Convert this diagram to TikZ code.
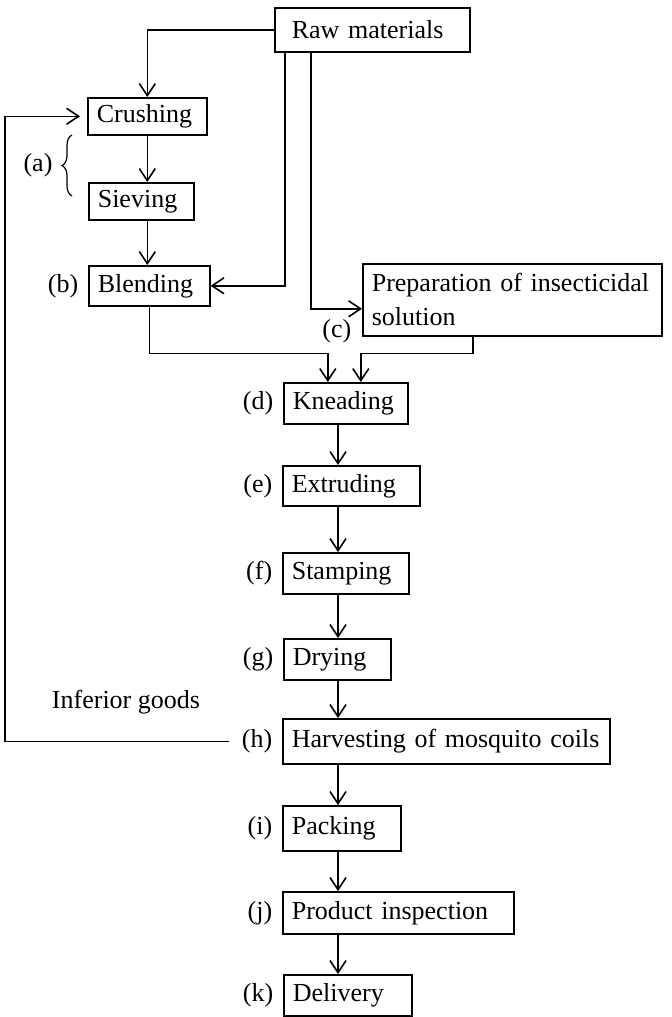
\documentclass[tikz,border=0pt]{standalone}
\usepackage{fontspec}
\setmainfont{Liberation Serif}
\usetikzlibrary{arrows.meta,positioning,decorations.pathreplacing}
\begin{document}
\begin{tikzpicture}[x=0.5pt,y=-0.5pt,
  font=\fontsize{13}{17}\selectfont,
  line width=0.8pt,
  >={Straight Barb[length=6pt,width=8pt]},
  stage/.style={draw,anchor=north west,inner xsep=4.5pt,inner ysep=0pt,align=left,minimum height=20pt},
  tag/.style={inner sep=1pt}]
\useasboundingbox (0,0) rectangle (671,1017);
% raw materials and left column
\node[stage,inner xsep=8.5pt,text width=80.5pt,minimum height=22pt] (raw) at (274,7) {Raw materials};
\node[stage,text width=50.5pt,minimum height=18.5pt] (crush) at (87,97) {Crushing};
\node[stage,text width=43.5pt,minimum height=18.5pt] (sieve) at (88,182) {Sieving};
\node[stage,text width=51.5pt] (blend) at (88,265) {Blending};
\node[stage,text width=140.5pt,minimum height=36pt] (prep) at (362,263) {Preparation of insecticidal\\solution};
% main column
\node[stage,text width=53pt,minimum height=20.5pt] (knead) at (283,382) {Kneading};
\node[stage,text width=59.5pt] (extrude) at (282,465) {Extruding};
\node[stage,text width=54pt,minimum height=20.5pt] (stamp) at (282,552) {Stamping};
\node[stage,text width=44.5pt,minimum height=20.5pt] (dry) at (283,638) {Drying};
\node[stage,text width=154.5pt,minimum height=22.5pt] (harvest) at (282,718) {Harvesting of mosquito coils};
\node[stage,text width=50pt,minimum height=22.5pt] (pack) at (282,805) {Packing};
\node[stage,text width=106.5pt,minimum height=21pt] (inspect) at (282,891) {Product inspection};
\node[stage,text width=55pt,minimum height=20.5pt] (deliver) at (283,974) {Delivery};
% step letters
\node[tag] (la) at (38,165) {(a)};
\draw[decorate,decoration={brace,amplitude=5pt},line width=0.6pt] (72,196) -- (72,135);
\node[tag,left=3.5pt of blend] (lb) {(b)};
\node[tag,anchor=east] (lc) at ([xshift=-4pt,yshift=2.5pt]prep.south west) {(c)};
\node[tag,left=3.5pt of knead] (ld) {(d)};
\node[tag,left=3.5pt of extrude] (le) {(e)};
\node[tag,left=3.5pt of stamp] (lf) {(f)};
\node[tag,left=3.5pt of dry] (lg) {(g)};
\node[tag,left=3.5pt of harvest] (lh) {(h)};
\node[tag,left=3.5pt of pack] (li) {(i)};
\node[tag,left=3.5pt of inspect] (lj) {(j)};
\node[tag,left=3.5pt of deliver] (lk) {(k)};
\node (inferior) at (126,702) {Inferior goods};
% arrows from raw materials
\draw[->] (raw.west) -| (crush.north);
\draw[->] ([xshift=5.5pt]raw.south west) |- (blend.east);
\draw[->] ([xshift=18.5pt]raw.south west) |- ([yshift=-4.5pt]prep.west);
\draw[->] (crush.south) -- (crush.south |- sieve.north);
\draw[->] (crush.south |- sieve.south) -- (crush.south |- blend.north);
% into kneading
\draw[->] (blend.south) -- ++(0,47) -| ([xshift=-9pt]knead.north);
\draw[->] ([xshift=55.5pt]prep.south west) -- ++(0,17) -| ([xshift=7.5pt]knead.north);
% main flow
\coordinate (spine) at (338,0);
\foreach \a/\b in {knead/extrude,extrude/stamp,stamp/dry,dry/harvest,harvest/pack,pack/inspect,inspect/deliver}
  \draw[->] (\a.south -| spine) -- (\b.north -| spine);
% inferior goods go back
\coordinate (back) at (15,0);
\draw[->] ([xshift=-5pt]lh.west) -- ([xshift=-5pt]lh.west -| back) |- ([xshift=-3.5pt]crush.west);
\end{tikzpicture}
\end{document}
